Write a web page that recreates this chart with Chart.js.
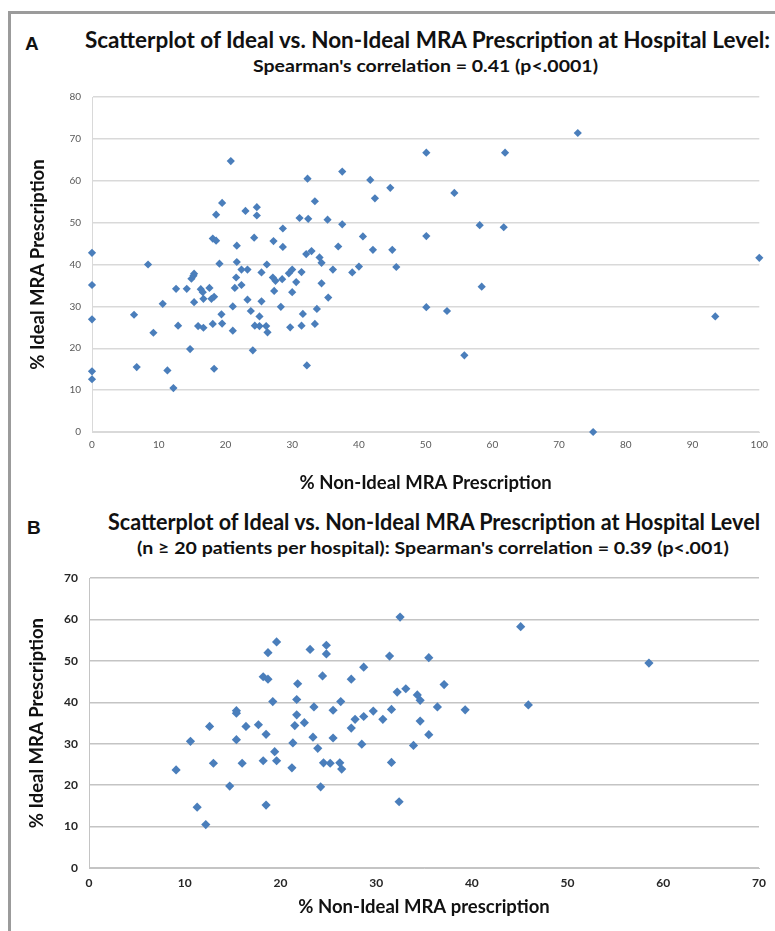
<!DOCTYPE html>
<html>
<head>
<meta charset="utf-8">
<script src="https://cdn.jsdelivr.net/npm/chart.js@4.4.1/dist/chart.umd.min.js"></script>
<style>
body{margin:0;background:#fff;}
#page{position:relative;width:775px;height:931px;overflow:hidden;font-family:Lato,sans-serif;}
#frame{position:absolute;left:8px;top:11px;width:820px;height:980px;border-top:3px solid #9b9b9b;border-left:3px solid #9b9b9b;}
.t{position:absolute;white-space:nowrap;font-weight:bold;color:#111;transform-origin:0 50%;line-height:1;}
.lab{position:absolute;font-family:"Liberation Sans",Arial,sans-serif;font-weight:bold;font-size:19px;line-height:1;color:#111;}
canvas{position:absolute;left:0;}
</style>
</head>
<body>
<div id="page">
  <div id="frame"></div>
  <div class="lab" style="left:25px;top:34px">A</div>
  <div class="t" id="titleA" style="left:85px;top:29px;font-size:22px">Scatterplot of Ideal vs. Non-Ideal MRA Prescription at Hospital Level:</div>
  <div class="t" id="subA" style="left:253px;top:57px;font-size:17px">Spearman's correlation = 0.41 (p&lt;.0001)</div>
  <canvas id="chartA" width="775" height="420" style="top:80px"></canvas>
  <div class="lab" style="left:27px;top:518px">B</div>
  <div class="t" id="titleB" style="left:108px;top:511px;font-size:22px">Scatterplot of Ideal vs. Non-Ideal MRA Prescription at Hospital Level</div>
  <div class="t" id="subB" style="left:137px;top:539px;font-size:17px">(n ≥ 20 patients per hospital): Spearman's correlation = 0.39 (p&lt;.001)</div>
  <canvas id="chartB" width="775" height="371" style="top:560px"></canvas>
</div>
<script>
'use strict';
// hospital level values, all hospitals (panel A)
var nonIdealA = [0,0,0,0,0,6.3,6.7,8.4,9.2,10.6,
  11.3,12.2,12.6,12.9,14.2,14.7,14.9,15.2,15.3,15.3,
  15.9,16.3,16.6,16.7,16.7,17.6,17.9,18.1,18.3,18.3,
  18.1,18.6,18.6,19.1,19.4,19.5,19.5,20.8,21.1,21.1,
  21.4,21.6,21.7,21.7,22.4,22.4,23.0,23.3,23.3,23.8,
  24.1,24.3,24.4,24.7,24.7,25.1,25.1,25.4,25.4,26.1,
  26.3,26.2,27.1,27.2,27.3,27.5,28.5,28.3,28.6,28.6,
  29.5,30.0,29.7,30.0,30.6,31.1,31.4,31.4,31.6,32.1,
  32.2,32.3,32.4,32.9,33.4,33.4,33.7,34.1,34.4,34.4,
  35.3,35.4,36.1,36.9,37.5,37.5,39.0,40.0,40.6,41.7,
  42.1,42.4,44.7,45.0,45.6,50.1,50.1,50.1,53.2,54.3,
  55.8,58.1,58.4,61.7,61.9,72.8,75.1,93.4,100];
var idealA = [42.8,35.1,26.9,14.5,12.6,28.0,15.5,40.0,23.7,30.6,
  14.7,10.5,34.2,25.4,34.2,19.8,36.6,37.3,37.8,31.0,
  25.3,34.1,33.4,31.8,24.9,34.4,31.8,25.8,32.3,15.1,
  46.2,45.7,51.9,40.2,28.1,25.9,54.7,64.7,30.0,24.2,
  34.4,36.9,40.6,44.5,35.1,38.8,52.8,38.8,31.6,28.9,
  19.5,46.4,25.4,53.7,51.7,27.6,25.3,38.1,31.2,25.3,
  23.8,40.0,36.9,45.6,33.7,36.1,36.5,29.9,48.6,44.2,
  37.9,38.8,25.0,33.4,35.8,51.1,38.2,25.4,28.2,42.5,
  15.9,60.5,50.9,43.2,55.1,25.8,29.4,41.7,40.4,35.5,
  50.7,32.1,38.8,44.3,62.2,49.6,38.1,39.5,46.7,60.2,
  43.5,55.8,58.3,43.5,39.4,66.7,46.8,29.8,28.9,57.1,
  18.3,49.4,34.7,48.9,66.7,71.4,0,27.6,41.6];
// hospitals with n >= 20 patients (panel B)
var nonIdealB = [9.1,10.6,11.3,12.2,12.6,13.0,14.7,15.4,15.4,15.4,
  16.0,16.4,17.7,18.2,18.2,18.5,18.5,18.7,18.7,19.2,
  19.4,19.6,19.6,21.2,21.3,21.5,21.7,21.7,21.8,22.5,
  23.1,23.4,23.5,23.9,24.2,24.4,24.5,24.8,24.8,25.2,
  25.5,25.5,26.2,26.3,26.4,27.4,27.4,27.8,28.5,28.7,
  28.7,29.7,30.7,31.4,31.6,31.6,32.2,32.4,32.5,33.1,
  33.9,34.3,34.6,34.6,35.5,35.5,36.4,37.1,39.3,45.1,
  45.9,58.5];
var idealB = [23.7,30.6,14.7,10.5,34.2,25.3,19.8,31.0,38.0,37.4,
  25.3,34.2,34.6,25.9,46.2,32.3,15.2,52.0,45.6,40.2,
  28.1,25.9,54.6,24.2,30.2,34.4,37.0,40.7,44.5,35.1,
  52.8,31.6,38.9,28.9,19.6,46.4,25.4,53.8,51.7,25.3,
  31.4,38.1,25.4,40.2,23.9,45.6,33.8,35.9,29.9,48.5,
  36.6,37.9,35.9,51.2,38.3,25.5,42.5,16.0,60.6,43.3,
  29.6,41.8,40.5,35.5,50.8,32.2,38.9,44.3,38.2,58.3,
  39.4,49.5];
var xMaxA = 100, yMaxA = 80, xMaxB = 70, yMaxB = 70, step = 10;
var BLUE = '#4a7ebb';

function fit(id, w)
{
    var el = document.getElementById(id);
    var r = el.getBoundingClientRect().width;
    if (r) {
        el.style.transform = 'scaleX(' + (w / r) + ')'; }
}

function scatter(id, xs, ys, o)
{
    var pts = xs.map(function (x, i) {
        return { x: x, y: ys[i] }; });
    var titleFont = { family: 'Lato', size: 18.5, weight: 'bold' };
    return new Chart(document.getElementById(id).getContext('2d'), {
        type: 'scatter',
        data: { datasets: [{
            data: pts,
            pointStyle: 'rectRot',
            pointRadius: o.r,
            pointHoverRadius: o.r,
            backgroundColor: BLUE,
            borderColor: BLUE,
            borderWidth: 0,
            clip: false
        }] },
        options: {
            responsive: false,
            animation: false,
            events: [],
            layout: { padding: { top: o.top, right: o.right, left: 0, bottom: 0 } },
            plugins: { legend: { display: false }, tooltip: { enabled: false } },
            scales: {
                x: {
                    type: 'linear', min: 0, max: o.xMax,
                    afterFit: function (s) {
                        s.height = o.xh; },
                    ticks: { stepSize: step, padding: o.xpad, font: o.tickFont, color: o.tickColor, maxRotation: 0, autoSkip: false },
                    grid: { display: false, drawTicks: false },
                    border: { display: true, color: o.grid, width: 1 },
                    title: { display: true, text: o.xTitle, font: titleFont, color: '#111', padding: { top: 0, bottom: o.xtp } }
                },
                y: {
                    type: 'linear', min: 0, max: o.yMax,
                    afterFit: function (s) {
                        s.width = o.yw; },
                    ticks: { stepSize: step, padding: o.ypad, font: o.tickFont, color: o.tickColor },
                    grid: { color: o.grid, lineWidth: o.gw, drawTicks: false },
                    border: { display: true, color: o.grid, width: 1 },
                    title: { display: true, text: '% Ideal MRA Prescription', font: titleFont, color: '#111', padding: { top: o.ytp, bottom: 0 } }
                }
            }
        }
    });
}

function init()
{
    fit('titleA', 685); fit('subA', 345);
    fit('titleB', 652); fit('subB', 592);
    scatter('chartA', nonIdealA, idealA, {
        r: 4.1, top: 12, right: 13, xMax: xMaxA, yMax: yMaxA, xh: 68, yw: 92,
        xpad: 7, ypad: 11, xtp: 6, ytp: 27, grid: '#d9d9d9', gw: 1.5,
        tickFont: { family: 'Lato', size: 10 }, tickColor: '#595959',
        xTitle: '% Non-Ideal MRA Prescription'
    });
    scatter('chartB', nonIdealB, idealB, {
        r: 4.6, top: 17, right: 16, xMax: xMaxB, yMax: yMaxB, xh: 63, yw: 89,
        xpad: 8, ypad: 11, xtp: 13, ytp: 26, grid: '#c4c4c4', gw: 1.5,
        tickFont: { family: 'Lato', size: 12, weight: 'bold' }, tickColor: '#262626',
        xTitle: '% Non-Ideal MRA prescription'
    });
}
if (document.readyState === 'loading') {
    document.addEventListener('DOMContentLoaded', init); } else {
    init();
}
</script>
</body>
</html>
